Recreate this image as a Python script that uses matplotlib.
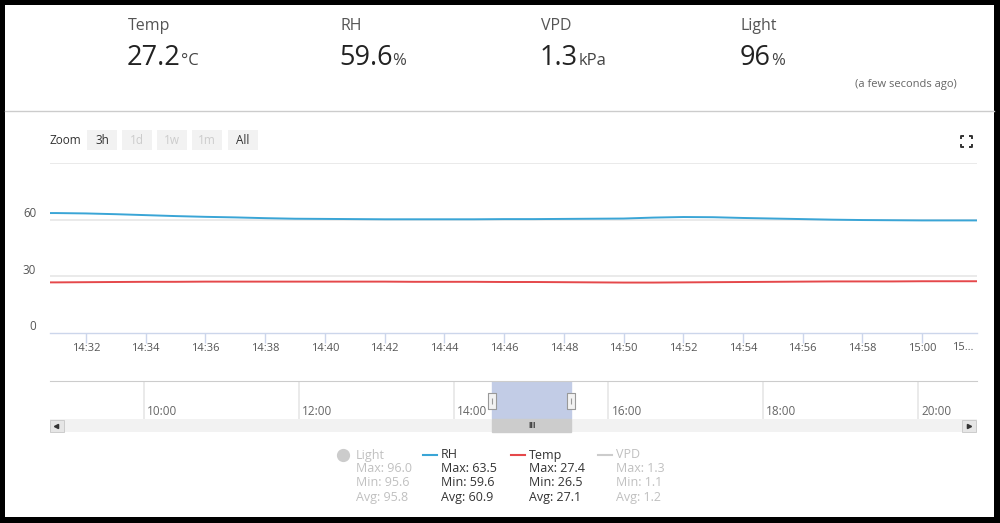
# Imports =====================================================================
import numpy as np
import pandas as pd
import matplotlib
matplotlib.use("Agg")
import matplotlib.pyplot as plt
import matplotlib.dates as mdates
import matplotlib.transforms as mtransforms
from matplotlib.patches import Rectangle

plt.rcParams['font.family'] = ['Open Sans', 'DejaVu Sans']

# Data ========================================================================
day = "2019-06-01 "
# header readings
head_names = ["Temp", "RH", "VPD", "Light"]
head_values = ["27.2", "59.6", "1.3", "96"]
head_units = ["°C", "%", "kPa", "%"]

# main series (one reading per minute)
times = ["14:30:48", "14:31", "14:32", "14:33", "14:34", "14:35", "14:36",
         "14:37", "14:38", "14:39", "14:40", "14:41", "14:42", "14:43",
         "14:44", "14:45", "14:46", "14:47", "14:48", "14:49", "14:50",
         "14:51", "14:52", "14:53", "14:54", "14:55", "14:56", "14:57",
         "14:58", "14:59", "15:00", "15:01", "15:01:50"]
rh = [63.5, 63.5, 63.3, 62.9, 62.4, 61.9, 61.5, 61.2, 60.8, 60.5, 60.4,
      60.3, 60.2, 60.2, 60.2, 60.2, 60.3, 60.3, 60.4, 60.5, 60.6, 61.1,
      61.4, 61.3, 60.9, 60.6, 60.3, 60.0, 59.8, 59.7, 59.6, 59.6, 59.6]
temp = [26.8, 26.8, 26.9, 27.0, 27.1, 27.1, 27.2, 27.2, 27.2, 27.2, 27.2,
        27.2, 27.2, 27.1, 27.1, 27.1, 27.0, 27.0, 26.9, 26.8, 26.7, 26.7,
        26.8, 26.9, 27.0, 27.1, 27.2, 27.3, 27.3, 27.3, 27.4, 27.4, 27.4]
y_ticks = [0, 30, 60]
y_grid = [30, 60, 90]

# navigator
nav_ticks = ["10:00", "12:00", "14:00", "16:00", "18:00", "20:00"]
nav_sel = ("14:30", "15:31")
main_range = ("14:30:48", "15:01:50")
nav_range = ("08:47:08", "20:45:44")

# legend
legend_names = ["Light", "RH", "Temp", "VPD"]
legend_max = ["96.0", "63.5", "27.4", "1.3"]
legend_min = ["95.6", "59.6", "26.5", "1.1"]
legend_avg = ["95.8", "60.9", "27.1", "1.2"]
legend_visible = [False, True, True, False]

zoom_buttons = ["3h", "1d", "1w", "1m", "All"]
zoom_enabled = [True, False, False, False, True]


def t(s):
    return pd.to_datetime(day + s)


# Figure ======================================================================
W, H = 1000, 523
fig = plt.figure(figsize=(W / 100, H / 100), dpi=100, facecolor="black")


def px_axes(x0, y0, x1, y1):
    # pixel box (top-left origin) -> figure axes
    return fig.add_axes([x0 / W, (H - y1) / H, (x1 - x0) / W, (y1 - y0) / H])


bg = fig.add_axes([0, 0, 1, 1])
bg.set_xlim(0, W)
bg.set_ylim(H, 0)
bg.axis("off")
bg.add_patch(Rectangle((5, 5), 989, 512, facecolor="white", edgecolor="none"))

BLUE = "#3aa5d6"
RED = "#e5484b"
GRID = "#e6e6e6"
AXIS = "#ccd6eb"

# Header ======================================================================
head_x = [128, 340, 541, 741]
for x, name, val, unit in zip(head_x, head_names, head_values, head_units):
    bg.text(x, 26, name, fontsize=11.5, color="#555555", va="center")
    v = bg.text(x - 1, 58, val, fontsize=19.5, color="#222222", va="center")
    bg.annotate(unit, xy=(1, 0), xycoords=v, xytext=(0, 2.5),
                textcoords="offset points", fontsize=12, color="#444444",
                va="bottom", ha="left")
bg.text(957, 84, "(a few seconds ago)", fontsize=8, color="#666666",
        ha="right", va="center")
bg.plot([5, 994], [110.5, 110.5], color="#cccccc", lw=1)

# Zoom buttons ================================================================
bg.text(50, 140.5, "Zoom", fontsize=8.5, color="#333333", va="center")
bx = [87, 122, 157, 192, 228]
for x, lab, en in zip(bx, zoom_buttons, zoom_enabled):
    bg.add_patch(Rectangle((x, 130), 30, 20, facecolor="#f2f2f2",
                           edgecolor="none"))
    bg.text(x + 15, 140, lab, fontsize=8.5, ha="center", va="center",
            color="#333333" if en else "#cccccc")

# fullscreen icon
cx, cy, r, a = 966, 141.5, 5.5, 3
for sx in (-1, 1):
    for sy in (-1, 1):
        bg.plot([cx + sx * r, cx + sx * r, cx + sx * (r - a)],
                [cy + sy * (r - a), cy + sy * r, cy + sy * r],
                color="#333333", lw=1.4, solid_capstyle="butt")

# Main chart ==================================================================
ax = px_axes(50, 163, 977, 333)
ax.patch.set_alpha(0)
tt = [t(s) for s in times]
ax.plot(tt, rh, color=BLUE, lw=1.4, zorder=3)
ax.plot(tt, temp, color=RED, lw=1.4, zorder=3)
ax.set_xlim(t(main_range[0]), t(main_range[1]))
ax.set_ylim(0, 90)
ax.set_yticks(y_grid)
ax.yaxis.grid(True, color=GRID, lw=1.2)
ax.tick_params(axis="y", length=0, labelleft=False)
for s in ["top", "left", "right"]:
    ax.spines[s].set_visible(False)
ax.spines["bottom"].set_color(AXIS)
ax.spines["bottom"].set_linewidth(1)
ax.xaxis.set_major_locator(mdates.MinuteLocator(byminute=range(0, 60, 2)))
ax.xaxis.set_major_formatter(mdates.DateFormatter("%H:%M"))
ax.tick_params(axis="x", length=7, width=1, color=AXIS, labelsize=8,
               labelcolor="#555555", pad=0.5)
ylab_tr = mtransforms.offset_copy(ax.get_yaxis_transform(), fig=fig,
                                  x=-14, y=6, units="dots")
for v in y_ticks:
    ax.text(0, v, str(v), transform=ylab_tr, ha="right", va="center",
            fontsize=8.3, color="#555555")
# last label is cut by the plot edge
bg.text(963, 347, "15…", fontsize=8, color="#555555", ha="center",
        va="center")

# Navigator ===================================================================
nav = px_axes(50, 381, 977, 419)
nav.patch.set_alpha(0)
nav.set_xlim(t(nav_range[0]), t(nav_range[1]))
nav.set_ylim(0, 1)
nav.set_yticks([])
nav.set_xticks([t(s) for s in nav_ticks])
nav.tick_params(axis="x", length=0, labelbottom=False)
nav.xaxis.grid(True, color=GRID, lw=1.2)
for s in ["bottom", "left", "right"]:
    nav.spines[s].set_visible(False)
nav.spines["top"].set_color("#cccccc")
nav_tr = mtransforms.offset_copy(nav.get_xaxis_transform(), fig=fig,
                                 x=3, y=0, units="dots")
for s in nav_ticks:
    nav.text(t(s), 0.2, s, transform=nav_tr, fontsize=8.5, color="#666666",
             ha="left", va="center")

s0, s1 = t(nav_sel[0]), t(nav_sel[1])
nav.axvspan(s0, s1, color="#c2cce6", zorder=2)

# scrollbar
bg.add_patch(Rectangle((50, 419), 927, 13, facecolor="#f2f2f2",
                       edgecolor="none"))
nav.axvspan(s0, s1, ymin=-13 / 38, ymax=0, color="#cccccc", clip_on=False,
            zorder=3)
nav.text(s0 + (s1 - s0) / 2, -6.5 / 38, "III", transform=nav.get_xaxis_transform(),
         fontsize=5.5, color="#333333", ha="center", va="center",
         fontweight="bold")
for x0 in (50, 962):
    bg.add_patch(Rectangle((x0, 419.5), 14, 12.5, facecolor="#e6e6e6",
                           edgecolor="#cccccc", lw=0.7))
bg.plot([56], [426], marker="<", ms=3, color="#333333")
bg.plot([969], [426], marker=">", ms=3, color="#333333")

# handles
handle = [(-3.5, -7.5), (3.5, -7.5), (3.5, 7.5), (-3.5, 7.5), (-3.5, -7.5)]
for s in (s0, s1):
    nav.plot([s], [0.47], marker=handle, ms=11, mfc="#f2f2f2", mec="#999999",
             mew=0.8, zorder=4, clip_on=False)
    nav.plot([s], [0.47], marker="|", ms=4, mec="#999999", mew=0.8, zorder=5)

# Legend ======================================================================
lx = [356, 441, 529, 616]
for i, name in enumerate(legend_names):
    c = "#333333" if legend_visible[i] else "#c0c0c0"
    if name == "Light":
        bg.plot([lx[i] - 13], [455], marker="o", ms=8.5, color="#cccccc")
    else:
        lc = {"RH": BLUE, "Temp": RED}.get(name, "#cccccc")
        bg.plot([lx[i] - 18, lx[i] - 4], [455, 455], color=lc, lw=1.5)
    bg.text(lx[i], 455, name, fontsize=9, color=c, va="center")
    bg.text(lx[i], 469, "Max: " + legend_max[i], fontsize=9, color=c,
            va="center")
    bg.text(lx[i], 483, "Min: " + legend_min[i], fontsize=9, color=c,
            va="center")
    bg.text(lx[i], 497, "Avg: " + legend_avg[i], fontsize=9, color=c,
            va="center")

fig.savefig("out.png", dpi=100, facecolor="black")

# ##### END OF FILE ###########################################################
